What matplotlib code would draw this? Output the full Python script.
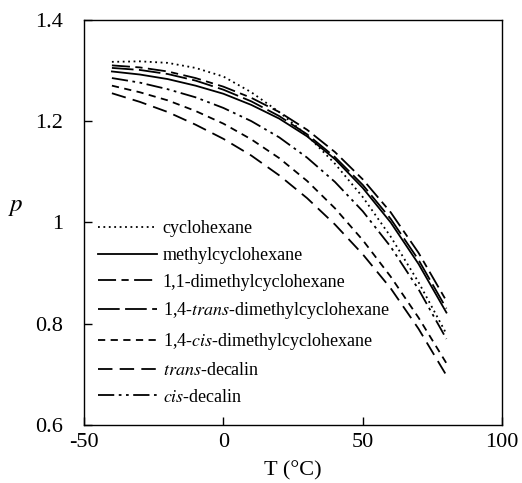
import matplotlib
matplotlib.use("Agg")
import matplotlib.pyplot as plt

plt.rcParams['font.family'] = ['Liberation Serif', 'DejaVu Serif']
plt.rcParams['mathtext.fontset'] = 'stix'

# Temperature grid (°C)
T = [-40, -30, -20, -10, 0, 10, 20, 30, 40, 50, 60, 70, 80]

cyclohexane = [1.317, 1.318, 1.315, 1.305, 1.288, 1.257, 1.218, 1.172, 1.116, 1.050, 0.972, 0.882, 0.780]
methylcyclohexane = [1.298, 1.292, 1.283, 1.270, 1.254, 1.232, 1.205, 1.170, 1.125, 1.068, 1.000, 0.918, 0.822]
dimethyl_11 = [1.310, 1.306, 1.298, 1.285, 1.268, 1.246, 1.218, 1.183, 1.139, 1.085, 1.020, 0.940, 0.845]
dimethyl_14_trans = [1.305, 1.301, 1.293, 1.280, 1.262, 1.239, 1.210, 1.174, 1.129, 1.074, 1.007, 0.926, 0.830]
dimethyl_14_cis = [1.270, 1.257, 1.241, 1.220, 1.195, 1.164, 1.127, 1.082, 1.028, 0.965, 0.893, 0.812, 0.722]
trans_decalin = [1.255, 1.238, 1.218, 1.193, 1.165, 1.132, 1.093, 1.048, 0.996, 0.937, 0.870, 0.790, 0.698]
cis_decalin = [1.285, 1.276, 1.263, 1.247, 1.226, 1.200, 1.168, 1.128, 1.080, 1.022, 0.952, 0.868, 0.770]

labels = [
    "cyclohexane",
    "methylcyclohexane",
    "1,1-dimethylcyclohexane",
    "1,4-$\\mathit{trans}$-dimethylcyclohexane",
    "1,4-$\\mathit{cis}$-dimethylcyclohexane",
    "$\\mathit{trans}$-decalin",
    "$\\mathit{cis}$-decalin",
]
series = [cyclohexane, methylcyclohexane, dimethyl_11, dimethyl_14_trans,
          dimethyl_14_cis, trans_decalin, cis_decalin]
dashes = [
    (1.0, 2.0),
    None,
    (10, 3, 4, 3),
    (12, 3),
    (4, 3),
    (8, 4),
    (9, 2.5, 1.5, 2.5, 1.5, 2.5),
]

x_ticks = [-50, 0, 50, 100]
x_ticklabels = ["-50", "0", "50", "100"]
y_ticks = [0.6, 0.8, 1.0, 1.2, 1.4]
y_ticklabels = ["0.6", "0.8", "1", "1.2", "1.4"]

fig = plt.figure(figsize=(5.22, 4.83), dpi=100)
ax = fig.add_axes([0.161, 0.120, 0.801, 0.839])

for y, lab, d in zip(series, labels, dashes):
    line, = ax.plot(T, y, color='black', lw=1.3, label=lab)
    if d is not None:
        line.set_dashes(d)

ax.set_xlim(-50, 100)
ax.set_ylim(0.6, 1.4)
ax.set_xticks(x_ticks)
ax.set_xticklabels(x_ticklabels)
ax.set_yticks(y_ticks)
ax.set_yticklabels(y_ticklabels)
ax.tick_params(direction='in', length=6, width=1, labelsize=16,
               top=False, right=False)
ax.tick_params(axis='x', pad=6)
ax.tick_params(axis='y', pad=15)
for s in ax.spines.values():
    s.set_linewidth(1.0)

ax.set_xlabel("T (°C)", fontsize=16, labelpad=6)
ax.set_ylabel("$p$", fontsize=18, rotation=0)
ax.yaxis.set_label_coords(-0.163, 0.51)

leg = ax.legend(loc='lower left', bbox_to_anchor=(0.015, 0.03), frameon=False,
                fontsize=13, handlelength=3.3, handletextpad=0.3,
                labelspacing=0.54, borderaxespad=0.0)

fig.savefig("out.png", dpi=100)
